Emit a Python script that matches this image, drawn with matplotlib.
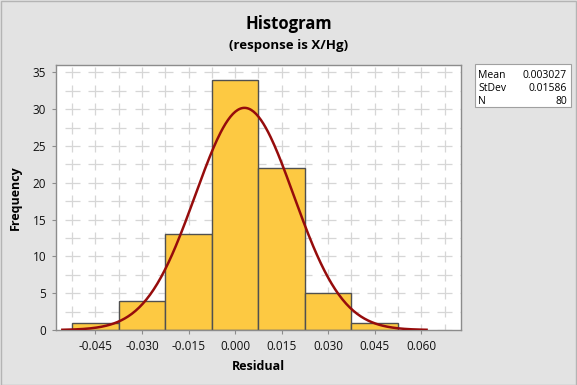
import numpy as np
import matplotlib
matplotlib.use("Agg")
import matplotlib.pyplot as plt
from matplotlib.collections import LineCollection
from matplotlib.patches import Rectangle

plt.rcParams['font.family'] = ['Open Sans', 'DejaVu Sans']

# data
bin_centers = [-0.045, -0.030, -0.015, 0.000, 0.015, 0.030, 0.045]
counts = [1, 4, 13, 34, 22, 5, 1]
bin_width = 0.015
fit_mean = 0.003027
fit_stdev = 0.01586
n_obs = 80
x_ticks = [-0.045, -0.030, -0.015, 0.000, 0.015, 0.030, 0.045, 0.060]
x_tick_labels = ['-0.045', '-0.030', '-0.015', '0.000', '0.015', '0.030', '0.045', '0.060']
y_ticks = [0, 5, 10, 15, 20, 25, 30, 35]

BG = '#e3e3e3'
BAR = '#fdc942'
BAR_EDGE = '#505050'
CURVE = '#960c0c'
GRID = '#d6d6d6'
FRAME = '#8c8c8c'

fig = plt.figure(figsize=(5.77, 3.85), dpi=100)
fig.patch.set_facecolor(BG)
ax = fig.add_axes([56 / 577, 1 - 330 / 385, 405 / 577, 265.3 / 385])
ax.set_facecolor('white')

xlim = (-0.0577, 0.0728)
ylim = (0, 36.05)
ax.set_xlim(*xlim)
ax.set_ylim(*ylim)

# Minitab-style broken grid: short crosses at every grid intersection
gx = np.arange(-0.0525, 0.0751, 0.0075)
gy = np.arange(0, 37.5, 2.5)
hx = 0.0075 * 0.32
hy = 2.5 * 0.32
segs = []
for y in gy:
    for x in gx:
        segs.append([(x - hx, y), (x + hx, y)])
        segs.append([(x, y - hy), (x, y + hy)])
lc = LineCollection(segs, colors=GRID, linewidths=0.9, zorder=0)
ax.add_collection(lc)

ax.bar(bin_centers, counts, width=bin_width, color=BAR, edgecolor=BAR_EDGE,
       linewidth=1.0, zorder=2)

# fitted normal curve from the displayed mean / stdev / N
xs = np.linspace(fit_mean - 3.7 * fit_stdev, fit_mean + 3.7 * fit_stdev, 300)
ys = n_obs * bin_width * np.exp(-0.5 * ((xs - fit_mean) / fit_stdev) ** 2) / (fit_stdev * np.sqrt(2 * np.pi))
ax.plot(xs, ys, color=CURVE, linewidth=1.8, zorder=3)

ax.set_xticks(x_ticks)
ax.set_xticklabels(x_tick_labels)
ax.set_yticks(y_ticks)
ax.tick_params(axis='both', direction='out', length=3, width=0.8, color=FRAME,
               labelsize=8.5, labelcolor='#111111', pad=4)
for side in ['left', 'bottom', 'top', 'right']:
    ax.spines[side].set_color(FRAME)
    ax.spines[side].set_linewidth(1.0)

ax.set_xlabel('Residual', fontsize=9, fontweight='bold', labelpad=5)
ax.set_ylabel('Frequency', fontsize=9, fontweight='bold', labelpad=8)

fig.text(0.5, 1 - 24 / 385, 'Histogram', ha='center', va='center',
         fontsize=12, fontweight='bold')
fig.text(0.5, 1 - 45 / 385, '(response is X/Hg)', ha='center', va='center',
         fontsize=9.5, fontweight='bold')

# stats box
fig.patches.append(Rectangle((475 / 577, 1 - 107 / 385), 96 / 577, 43 / 385,
                             transform=fig.transFigure, facecolor='white',
                             edgecolor='#a0a0a0', linewidth=0.8))
rows = [('Mean', f'{fit_mean:.6f}'), ('StDev', f'{fit_stdev:.5f}'), ('N', f'{n_obs}')]
for i, (k, v) in enumerate(rows):
    y = 1 - (75 + 13.3 * i) / 385
    fig.text(478 / 577, y, k, ha='left', va='center', fontsize=7.5)
    fig.text(567 / 577, y, v, ha='right', va='center', fontsize=7.5)

# outer frame
fig.patches.append(Rectangle((0.5 / 577, 0.5 / 385), 575.5 / 577, 383.5 / 385,
                             transform=fig.transFigure, facecolor='none',
                             edgecolor='#b4b4b4', linewidth=1.0))

fig.savefig('out.png', dpi=100, facecolor=BG)
